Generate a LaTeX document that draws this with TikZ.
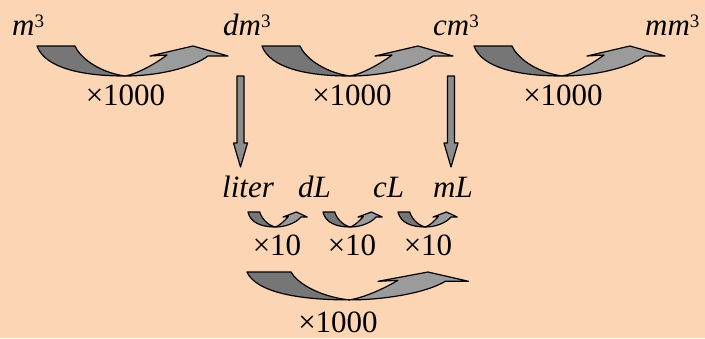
\documentclass[tikz,border=0pt]{standalone}
\usepackage{fontspec}
\setmainfont{Liberation Serif}
\usepackage{xcolor}
\usepackage{tikz}
\usetikzlibrary{positioning}
\definecolor{peach}{RGB}{252,213,181}
\definecolor{darkshade}{RGB}{118,118,118}
\definecolor{lightshade}{RGB}{155,155,155}
\definecolor{shaftgray}{RGB}{140,140,140}
\newcommand{\cub}[1]{\textit{#1}\raisebox{8pt}{\fontsize{19}{19}\selectfont 3}}

\begin{document}
\begin{tikzpicture}[x=1pt, y=-1pt, every node/.style={inner sep=0pt, font=\fontsize{31}{36}\selectfont},
  unit/.style={anchor=base west},
  factor/.style={anchor=base},
  swoop/.pic={
    \filldraw[fill=darkshade, line width=1.2pt, line join=round] (0,0) -- (38,0) .. controls (42,10) and (60,26) .. (88,30) .. controls (45,30) and (8,22) .. (0,0) -- cycle;
    \filldraw[fill=lightshade, line width=1.2pt, line join=round] (88,30) .. controls (120,30) and (155,22) .. (171,10) -- (191,10) -- (156,0) -- (113,10) -- (130,9) .. controls (118,18) and (100,28) .. (88,30) -- cycle;
  },
  drop/.pic={
    \filldraw[fill=shaftgray, line width=1.2pt, line join=round] (-3.5,0) -- (3.5,0) -- (3.5,67) -- (7,67) -- (0,91) -- (-7,67) -- (-3.5,67) -- cycle;
  }]
  \fill[peach] (0,0) rectangle (705,338);
  \useasboundingbox (0,0) rectangle (705,338);

  % cubic units
  \node[unit] (m3) at (12,35) {\cub{m}};
  \node[unit] (dm3) at (223,35) {\cub{dm}};
  \node[unit] (cm3) at (433,35) {\cub{cm}};
  \node[unit] (mm3) at (645,35) {\cub{mm}};
  \pic at (37,46) {swoop};
  \pic at (262,46) {swoop};
  \pic at (474,46) {swoop};
  \node[factor] (f1) at (125.5,105) {×1000};
  \node[factor] (f2) at (352,105) {×1000};
  \node[factor] (f3) at (563,105) {×1000};

  % down to litres
  \coordinate (dmfoot) at (240.5,76);
  \coordinate (cmfoot) at (451,76);
  \pic at (dmfoot) {drop};
  \pic at (cmfoot) {drop};

  % litre units
  \node[unit] (l) at (222,197) {\textit{liter}};
  \node[unit] (dl) at (298,197) {\textit{dL}};
  \node[unit] (cl) at (373,197) {\textit{cL}};
  \node[unit] (ml) at (433,197) {\textit{mL}};
  \foreach \x in {248,323,398}
    \pic[xscale=0.31, yscale=0.5] at (\x,212) {swoop};
  \node[factor] (g1) at (277,255) {×10};
  \node[factor] (g2) at (352,255) {×10};
  \node[factor] (g3) at (428,255) {×10};
  \pic[xscale=1.16, yscale=0.93] at (247,272) {swoop};
  \node[factor] (g4) at (338,332) {×1000};
\end{tikzpicture}
\end{document}
